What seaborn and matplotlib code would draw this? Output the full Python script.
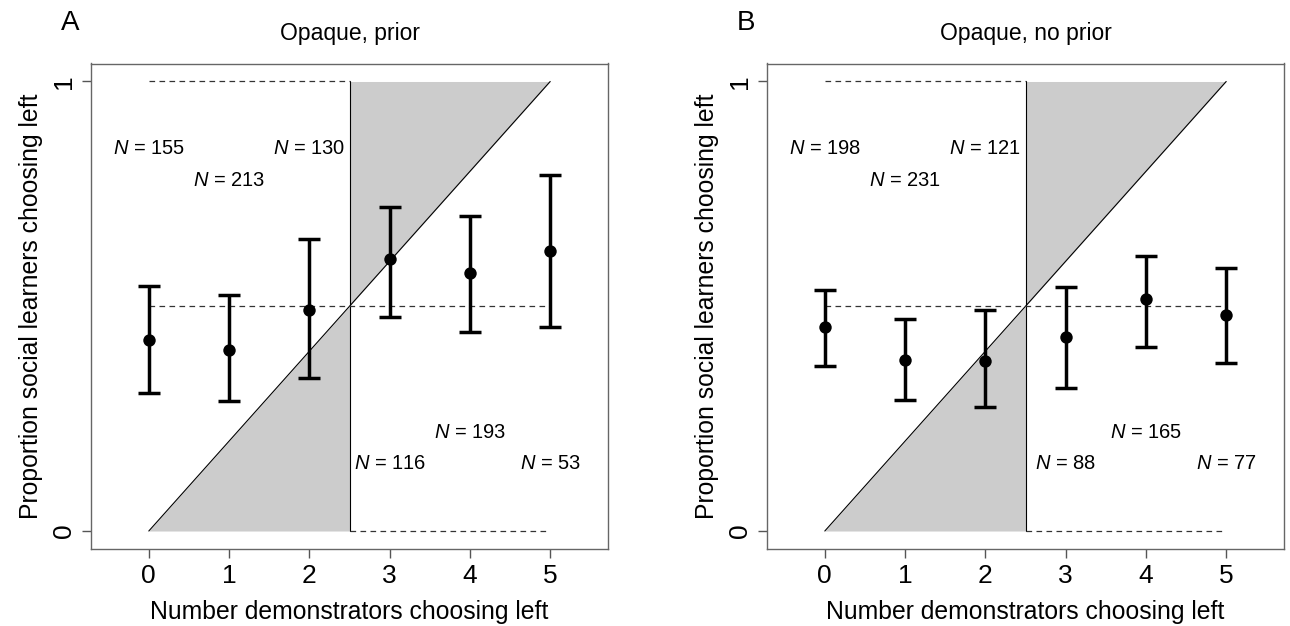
import numpy as np
import pandas as pd
import seaborn as sns
from matplotlib import pyplot as plt

# number of demonstrators choosing left (x positions)
demonstrators = [0, 1, 2, 3, 4, 5]

# panel A: opaque, prior
prior_mean = [0.425, 0.403, 0.492, 0.604, 0.575, 0.622]
prior_low = [0.307, 0.290, 0.341, 0.475, 0.443, 0.453]
prior_high = [0.544, 0.526, 0.650, 0.721, 0.700, 0.791]
prior_n = [155, 213, 130, 116, 193, 53]

# panel B: opaque, no prior
noprior_mean = [0.453, 0.381, 0.379, 0.431, 0.516, 0.480]
noprior_low = [0.367, 0.292, 0.275, 0.318, 0.410, 0.373]
noprior_high = [0.537, 0.472, 0.492, 0.543, 0.612, 0.584]
noprior_n = [198, 231, 121, 88, 165, 77]

# vertical position of the sample size labels
n_label_y = [0.85, 0.78, 0.85, 0.15, 0.22, 0.15]

sns.set_style("ticks")
plt.rcParams['font.family'] = ['Liberation Sans', 'DejaVu Sans']
plt.rcParams['mathtext.fontset'] = 'custom'
plt.rcParams['mathtext.it'] = 'Liberation Sans:italic'
plt.rcParams['mathtext.rm'] = 'Liberation Sans'
plt.rcParams['text.color'] = 'black'
plt.rcParams['axes.labelcolor'] = 'black'
plt.rcParams['xtick.labelcolor'] = 'black'
plt.rcParams['ytick.labelcolor'] = 'black'

fig = plt.figure(figsize=(12.9, 6.26), dpi=100)
W, H = 1290, 626


def panel(left_px, letter, title, mean, low, high, ns):
    ax = fig.add_axes([left_px / W, (H - 549) / H, 517 / W, 485.5 / H])
    x = np.array(demonstrators, dtype=float)
    n_max = x.max()
    threshold = n_max / 2
    # proportional (linear) copying line
    line_x = np.array([0, threshold, n_max])
    line_y = line_x / n_max
    ax.fill_between(line_x[:2], 0, line_y[:2], color="#cccccc", lw=0)
    ax.fill_between(line_x[1:], line_y[1:], 1, color="#cccccc", lw=0)
    ax.plot(line_x[[0, 2]], line_y[[0, 2]], color="black", lw=0.8)
    ax.plot([threshold, threshold], [0, 1], color="black", lw=0.8)
    # conformity step: dashed reference lines
    dash = dict(color="#333333", lw=0.9, ls=(0, (4.5, 3.5)))
    ax.plot([0, threshold], [1, 1], **dash)
    ax.plot([threshold, n_max], [0, 0], **dash)
    ax.plot([0, n_max], [0.5, 0.5], **dash)

    df = pd.DataFrame({"x": demonstrators, "mean": mean, "low": low, "high": high})
    yerr = [df["mean"] - df["low"], df["high"] - df["mean"]]
    ax.errorbar(df["x"], df["mean"], yerr=yerr, fmt="none", ecolor="black",
                elinewidth=2.5, capsize=8, capthick=2.5, zorder=3)
    sns.scatterplot(data=df, x="x", y="mean", ax=ax, color="black", s=80,
                    edgecolor="black", linewidth=0, zorder=4)

    for xi, yi, n in zip(demonstrators, n_label_y, ns):
        ax.text(xi, yi, r"$N$ = %d" % n, ha="center", va="center", fontsize=14.5)

    ax.set_xlim(-0.72, 5.72)
    ax.set_ylim(-0.04, 1.04)
    ax.set_xticks(demonstrators)
    ax.set_yticks([0, 1])
    ax.set_yticklabels(["0", "1"], rotation=90, va="center")
    ax.tick_params(axis="both", length=6.5, width=1, color="#555555",
                   labelsize=19, pad=4)
    for s in ax.spines.values():
        s.set_visible(True)
        s.set_color("#666666")
        s.set_linewidth(1)
    ax.set_xlabel("Number demonstrators choosing left", fontsize=17.8, labelpad=9)
    ax.set_ylabel("Proportion social learners choosing left", fontsize=17.8, labelpad=7)
    ax.set_title(title, fontsize=16.5, pad=17)
    fig.text((left_px - 21) / W, 1 - 23 / H, letter, fontsize=20,
             ha="center", va="center")
    return ax


panel(91, "A", "Opaque, prior", prior_mean, prior_low, prior_high, prior_n)
panel(767, "B", "Opaque, no prior", noprior_mean, noprior_low, noprior_high, noprior_n)

fig.savefig("out.png", dpi=100)
